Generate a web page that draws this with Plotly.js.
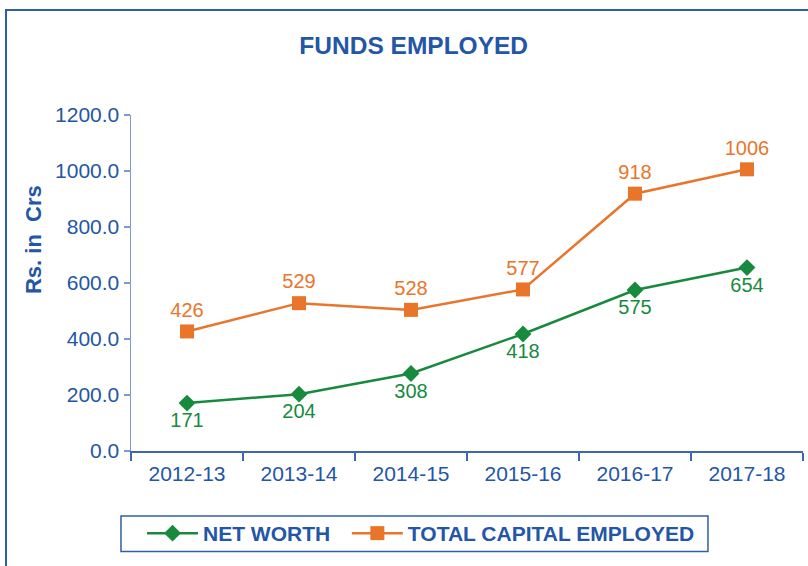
<!DOCTYPE html>
<html>
<head>
<meta charset="utf-8">
<script src="https://cdn.plot.ly/plotly-3.0.1.min.js"></script>
<style>
  html, body { margin: 0; padding: 0; background: #ffffff; }
  #chart { width: 808px; height: 566px; }
</style>
</head>
<body>
<div id="chart"></div>
<script>
// Data
const years = ["2012-13", "2013-14", "2014-15", "2015-16", "2016-17", "2017-18"];
const netWorth = [171, 203, 277, 418, 575, 655];
const netWorthLabels = ["171", "204", "308", "418", "575", "654"];
const totalCapital = [427, 528, 504, 577, 919, 1006];
const totalCapitalLabels = ["426", "529", "528", "577", "918", "1006"];
const yTicks = [0, 200, 400, 600, 800, 1000, 1200];
const yTickLabels = ["0.0", "200.0", "400.0", "600.0", "800.0", "1000.0", "1200.0"];

const BLUE = "#2356A6";
const GREEN = "#178A3E";
const ORANGE = "#E9752A";
const FONT = "Liberation Sans, Arial, sans-serif";
const NB = "\u00a0";

const traces = [
  {
    x: years, y: netWorth, text: netWorthLabels,
    name: "NET WORTH" + NB + NB,
    type: "scatter", mode: "lines+markers+text",
    textposition: "bottom center",
    textfont: { family: FONT, size: 20, color: GREEN },
    line: { color: GREEN, width: 2.5 },
    marker: { symbol: "diamond", size: 13, color: GREEN },
    cliponaxis: false
  },
  {
    x: years, y: totalCapital, text: totalCapitalLabels,
    name: "TOTAL CAPITAL EMPLOYED",
    type: "scatter", mode: "lines+markers+text",
    textposition: "top center",
    textfont: { family: FONT, size: 20, color: ORANGE },
    line: { color: ORANGE, width: 2.5 },
    marker: { symbol: "square", size: 14, color: ORANGE },
    cliponaxis: false
  }
];

const layout = {
  width: 808, height: 566,
  margin: { l: 131, r: 5, t: 115, b: 115 },
  paper_bgcolor: "#ffffff", plot_bgcolor: "#ffffff",
  font: { family: FONT, color: BLUE, size: 21 },
  showlegend: true,
  title: {
    text: "<b>FUNDS EMPLOYED</b>",
    font: { family: FONT, size: 24.5, color: BLUE },
    xref: "container", x: 0.512, xanchor: "center",
    yref: "container", y: 0.919, yanchor: "middle"
  },
  xaxis: {
    type: "category",
    range: [-0.5, 5.5],
    showline: true, linecolor: "#3D67B1", linewidth: 1.5,
    ticks: "outside", ticklen: 8, tickcolor: "#3D67B1", tickwidth: 1.5,
    tickson: "boundaries",
    ticklabelstandoff: 3,
    showgrid: false, zeroline: false,
    tickfont: { family: FONT, size: 21, color: BLUE },
    fixedrange: true
  },
  yaxis: {
    range: [0, 1200],
    tickvals: yTicks, ticktext: yTickLabels,
    showline: true, linecolor: "#7D9AD2", linewidth: 1.5,
    ticks: "outside", ticklen: 6, tickcolor: "#7D9AD2", tickwidth: 1.5,
    showgrid: false, zeroline: false,
    tickfont: { family: FONT, size: 21, color: BLUE },
    fixedrange: true
  },
  legend: {
    orientation: "h",
    x: 0.0164, xanchor: "left",
    y: -0.1845, yanchor: "top",
    borderwidth: 0,
    bgcolor: "rgba(0,0,0,0)",
    font: { family: FONT, size: 21, color: BLUE, weight: "bold" },
    itemwidth: 51,
    traceorder: "normal"
  },
  annotations: [
    {
      text: "<b>Rs." + NB + "in" + NB + NB + "Crs</b>",
      xref: "paper", yref: "paper",
      x: -0.1443, y: 0.628,
      xanchor: "center", yanchor: "middle",
      textangle: -90, showarrow: false,
      font: { family: FONT, size: 22, color: BLUE }
    }
  ],
  shapes: [
    {
      type: "rect", xref: "paper", yref: "paper",
      x0: -0.186, x1: 1.02, y0: -0.36, y1: 1.3125,
      line: { color: "#2F5FA8", width: 2 },
      fillcolor: "rgba(0,0,0,0)"
    },
    {
      type: "rect", xref: "paper", yref: "paper",
      x0: -0.0149, x1: 0.8586, y0: -0.2991, y1: -0.1935,
      line: { color: "#2F5FA8", width: 1.5 },
      fillcolor: "rgba(0,0,0,0)"
    }
  ]
};

Plotly.newPlot("chart", traces, layout, { displayModeBar: false, staticPlot: true });
</script>
</body>
</html>
